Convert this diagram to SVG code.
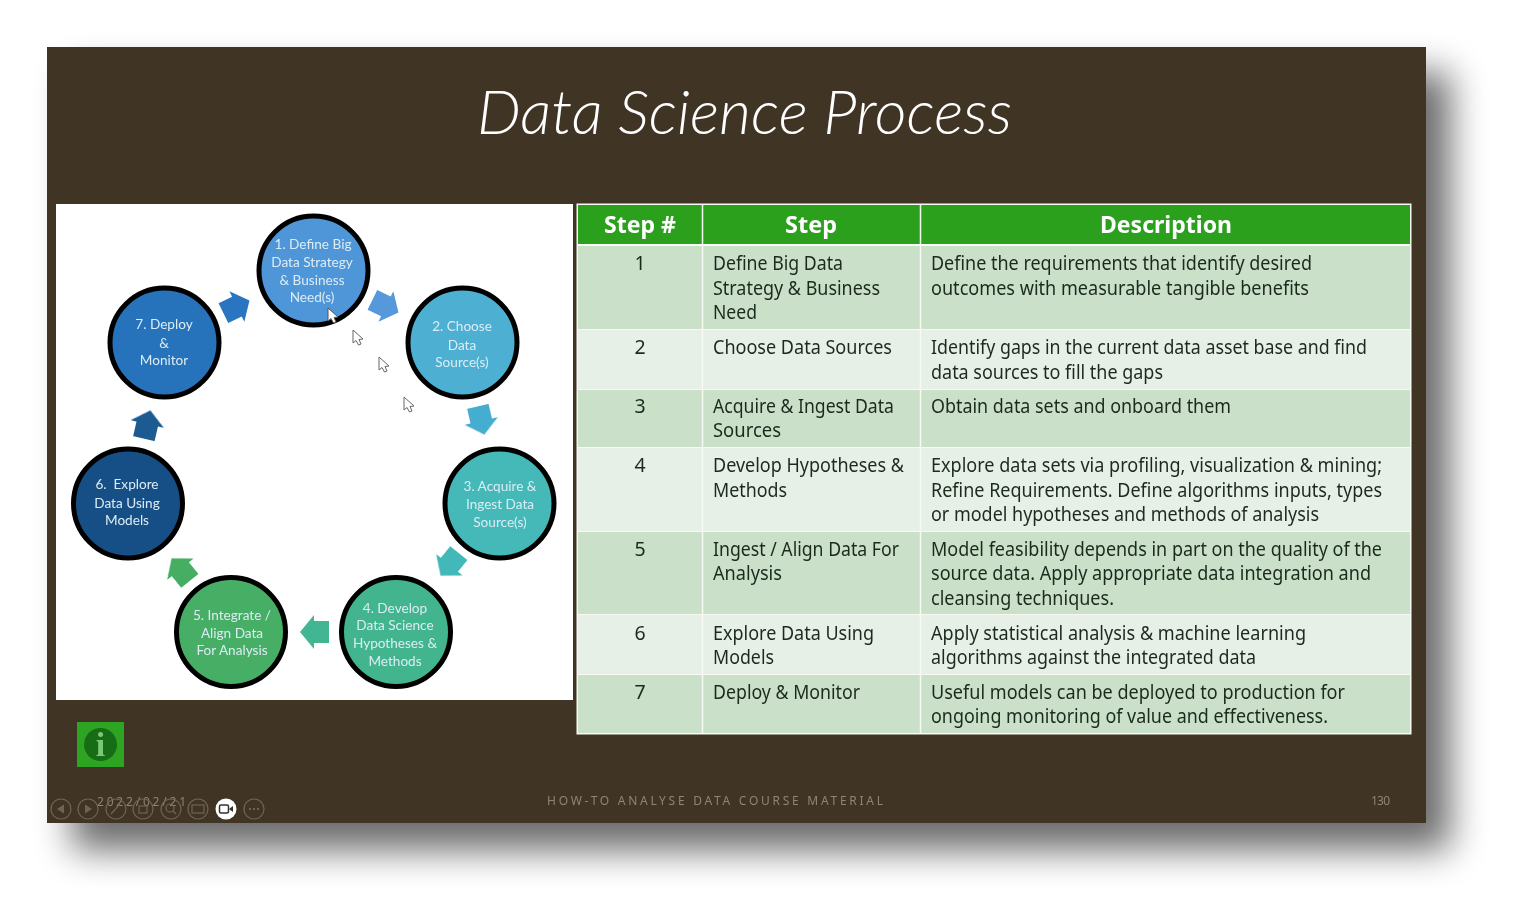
<svg xmlns="http://www.w3.org/2000/svg" width="1521" height="918" viewBox="0 0 1521 918">
<style>
text{font-family:"Noto Sans","Open Sans","Liberation Sans",sans-serif}
.title{font-family:"Lato","Open Sans",sans-serif;font-size:61px;font-style:italic;font-weight:300;fill:#fff}
.th{font-size:23px;font-weight:700;fill:#fff;text-anchor:middle}
.td{font-size:19.5px;fill:#1d2a1e}
.num{text-anchor:middle}
.node-c{stroke:#000;stroke-width:5}
.nl{font-family:"Lato","Noto Sans",sans-serif;font-size:13.600px;fill:#dcecf4;text-anchor:middle}
.foot{font-size:12px;fill:#8f8474}
.tb{fill:none;stroke:#6f6455;stroke-width:1.2}
.cur{fill:#fff;stroke:#666;stroke-width:1}
.gl{stroke:#f6faf3;stroke-width:1.5}
</style>
<defs>
<filter id="sh" x="-10%" y="-10%" width="120%" height="120%"><feGaussianBlur stdDeviation="18"/></filter>
<filter id="soft" x="-5%" y="-5%" width="110%" height="110%"><feGaussianBlur stdDeviation="0.45"/></filter>
<path id="arr" d="M15,0 L1,-17 L1,-11 L-14,-11 L-14,11 L1,11 L1,17 Z"/>
<path id="cursor" d="M0,0 L0,13 L3,10.5 L5.5,15 L8,14 L6,9.5 L10,9 Z"/>
</defs>
<rect width="1521" height="918" fill="#fff"/>
<rect x="72" y="72" width="1378" height="778" fill="#000" opacity=".58" filter="url(#sh)"/>
<rect x="47" y="47" width="1379" height="776" fill="#403425"/>
<text class="title" x="477" y="134" textLength="535" lengthAdjust="spacingAndGlyphs">Data Science Process</text>

<rect x="56" y="204" width="517" height="496" fill="#fff"/>
<g id="connectors" filter="url(#soft)">
<use href="#arr" transform="translate(236,307) rotate(-26)" fill="#2a75c0"/>
<use href="#arr" transform="translate(385,306) rotate(26)" fill="#5599dc"/>
<use href="#arr" transform="translate(481,420) rotate(77)" fill="#45aed0"/>
<use href="#arr" transform="translate(450,564) rotate(129)" fill="#42b8b8"/>
<use href="#arr" transform="translate(315,632) rotate(180)" fill="#43b592"/>
<use href="#arr" transform="translate(181,570) rotate(231)" fill="#45ae62"/>
<use href="#arr" transform="translate(147,425) rotate(-77)" fill="#1d5a92"/>
</g>
<g id="node1" filter="url(#soft)"><circle class="node-c" cx="313.500" cy="270.500" r="54.500" fill="#5096d8"/>
<text class="nl" x="313" y="249">1. Define Big</text><text class="nl" x="312" y="267">Data Strategy</text><text class="nl" x="312" y="285">&amp; Business</text><text class="nl" x="312" y="302">Need(s)</text></g>
<g id="node2" filter="url(#soft)"><circle class="node-c" cx="462.500" cy="342.500" r="54.500" fill="#4db0d2"/>
<text class="nl" x="462" y="331">2. Choose</text><text class="nl" x="462" y="350">Data</text><text class="nl" x="462" y="367">Source(s)</text></g>
<g id="node3" filter="url(#soft)"><circle class="node-c" cx="499.500" cy="503.500" r="54.500" fill="#45b8b8"/>
<text class="nl" x="500" y="491">3. Acquire &amp;</text><text class="nl" x="500" y="509">Ingest Data</text><text class="nl" x="500" y="527">Source(s)</text></g>
<g id="node4" filter="url(#soft)"><circle class="node-c" cx="396" cy="632" r="54.500" fill="#42b58e"/>
<text class="nl" x="395" y="613">4. Develop</text><text class="nl" x="395" y="630">Data Science</text><text class="nl" x="395" y="648">Hypotheses &amp;</text><text class="nl" x="395" y="666">Methods</text></g>
<g id="node5" filter="url(#soft)"><circle class="node-c" cx="231" cy="632" r="54.500" fill="#46ae66"/>
<text class="nl" x="232" y="620">5. Integrate /</text><text class="nl" x="232" y="638">Align Data</text><text class="nl" x="232" y="655">For Analysis</text></g>
<g id="node6" filter="url(#soft)"><circle class="node-c" cx="128" cy="503.500" r="54.500" fill="#184f85"/>
<text class="nl" x="127" y="489" xml:space="preserve">6.  Explore</text><text class="nl" x="127" y="508">Data Using</text><text class="nl" x="127" y="525">Models</text></g>
<g id="node7" filter="url(#soft)"><circle class="node-c" cx="164.500" cy="342.500" r="54.500" fill="#2673bc"/>
<text class="nl" x="164" y="329">7. Deploy</text><text class="nl" x="164" y="348">&amp;</text><text class="nl" x="164" y="365">Monitor</text></g>
<use href="#cursor" x="328" y="308" fill="#fff" stroke="#555"/>
<use class="cur" href="#cursor" x="353" y="330"/>
<use class="cur" href="#cursor" x="379" y="357"/>
<use class="cur" href="#cursor" x="404" y="397"/>

<g id="table" filter="url(#soft)">
<rect x="576.500" y="203.500" width="835" height="531" fill="#f6faf3"/>
<rect x="578" y="205" width="832" height="39" fill="#2ca01f"/>
<g>
<rect x="578" y="246" width="832" height="83" fill="#cae0c9"/>
<rect x="578" y="330" width="832" height="59" fill="#e7f0e6"/>
<rect x="578" y="390" width="832" height="57" fill="#cae0c9"/>
<rect x="578" y="448" width="832" height="83" fill="#e7f0e6"/>
<rect x="578" y="532" width="832" height="82" fill="#cae0c9"/>
<rect x="578" y="615" width="832" height="59" fill="#e7f0e6"/>
<rect x="578" y="675" width="832" height="58" fill="#cae0c9"/>
</g>
<path class="gl" d="M702.500,204V734M920.500,204V734"/>
<text class="th" x="640" y="233" textLength="72" lengthAdjust="spacingAndGlyphs">Step #</text>
<text class="th" x="811" y="233" textLength="52" lengthAdjust="spacingAndGlyphs">Step</text>
<text class="th" x="1166" y="233" textLength="132" lengthAdjust="spacingAndGlyphs">Description</text>

<text class="td num" x="640" y="270">1</text><text class="td num" x="640" y="354">2</text><text class="td num" x="640" y="413">3</text><text class="td num" x="640" y="472">4</text><text class="td num" x="640" y="556">5</text><text class="td num" x="640" y="640">6</text><text class="td num" x="640" y="699">7</text>

<g>
<text class="td" x="713" y="270" textLength="130" lengthAdjust="spacingAndGlyphs">Define Big Data</text>
<text class="td" x="713" y="295" textLength="167" lengthAdjust="spacingAndGlyphs">Strategy &amp; Business</text>
<text class="td" x="713" y="319" textLength="44" lengthAdjust="spacingAndGlyphs">Need</text>
<text class="td" x="713" y="354" textLength="179" lengthAdjust="spacingAndGlyphs">Choose Data Sources</text>
<text class="td" x="713" y="413" textLength="181" lengthAdjust="spacingAndGlyphs">Acquire &amp; Ingest Data</text>
<text class="td" x="713" y="437" textLength="68" lengthAdjust="spacingAndGlyphs">Sources</text>
<text class="td" x="713" y="472" textLength="191" lengthAdjust="spacingAndGlyphs">Develop Hypotheses &amp;</text>
<text class="td" x="713" y="497" textLength="74" lengthAdjust="spacingAndGlyphs">Methods</text>
<text class="td" x="713" y="556" textLength="186" lengthAdjust="spacingAndGlyphs">Ingest / Align Data For</text>
<text class="td" x="713" y="580" textLength="69" lengthAdjust="spacingAndGlyphs">Analysis</text>
<text class="td" x="713" y="640" textLength="161" lengthAdjust="spacingAndGlyphs">Explore Data Using</text>
<text class="td" x="713" y="664" textLength="61" lengthAdjust="spacingAndGlyphs">Models</text>
<text class="td" x="713" y="699" textLength="147" lengthAdjust="spacingAndGlyphs">Deploy &amp; Monitor</text>
</g>
<g>
<text class="td" x="931" y="270" textLength="381" lengthAdjust="spacingAndGlyphs">Define the requirements that identify desired</text>
<text class="td" x="931" y="295" textLength="378" lengthAdjust="spacingAndGlyphs">outcomes with measurable tangible benefits</text>
<text class="td" x="931" y="354" textLength="436" lengthAdjust="spacingAndGlyphs">Identify gaps in the current data asset base and find</text>
<text class="td" x="931" y="379" textLength="232" lengthAdjust="spacingAndGlyphs">data sources to fill the gaps</text>
<text class="td" x="931" y="413" textLength="300" lengthAdjust="spacingAndGlyphs">Obtain data sets and onboard them</text>
<text class="td" x="931" y="472" textLength="451" lengthAdjust="spacingAndGlyphs">Explore data sets via profiling, visualization &amp; mining;</text>
<text class="td" x="931" y="497" textLength="451" lengthAdjust="spacingAndGlyphs">Refine Requirements. Define algorithms inputs, types</text>
<text class="td" x="931" y="521" textLength="388" lengthAdjust="spacingAndGlyphs">or model hypotheses and methods of analysis</text>
<text class="td" x="931" y="556" textLength="451" lengthAdjust="spacingAndGlyphs">Model feasibility depends in part on the quality of the</text>
<text class="td" x="931" y="580" textLength="440" lengthAdjust="spacingAndGlyphs">source data. Apply appropriate data integration and</text>
<text class="td" x="931" y="605" textLength="183" lengthAdjust="spacingAndGlyphs">cleansing techniques.</text>
<text class="td" x="931" y="640" textLength="375" lengthAdjust="spacingAndGlyphs">Apply statistical analysis &amp; machine learning</text>
<text class="td" x="931" y="664" textLength="325" lengthAdjust="spacingAndGlyphs">algorithms against the integrated data</text>
<text class="td" x="931" y="699" textLength="414" lengthAdjust="spacingAndGlyphs">Useful models can be deployed to production for</text>
<text class="td" x="931" y="723" textLength="397" lengthAdjust="spacingAndGlyphs">ongoing monitoring of value and effectiveness.</text>
</g>
</g>

<g id="info" filter="url(#soft)">
<rect x="77" y="722" width="47" height="45" fill="#2ea522"/>
<circle cx="100.500" cy="744.500" r="16.500" fill="#166d12"/>
<text x="100.500" y="756" text-anchor="middle" style="font-family:'Liberation Serif',serif;font-size:34px;font-weight:700;fill:#7cc878">i</text>
</g>

<g id="footer" filter="url(#soft)">
<text class="foot" x="97" y="806" textLength="89">2022/02/21</text>
<text class="foot" x="547" y="805" textLength="336">HOW-TO ANALYSE DATA COURSE MATERIAL</text>
<text class="foot" x="1371" y="805" textLength="19">130</text>
</g>
<g id="toolbar" filter="url(#soft)">
<circle class="tb" cx="61" cy="809" r="10"/><path d="M64,804.500V813.500L57,809Z" fill="#6f6455"/>
<circle class="tb" cx="88" cy="809" r="10"/><path d="M85,804.500V813.500L92,809Z" fill="#6f6455"/>
<circle class="tb" cx="116" cy="809" r="10"/><path class="tb" d="M111,814L120,804"/>
<circle class="tb" cx="143" cy="809" r="10"/><rect class="tb" x="139" y="806" width="8" height="7"/>
<circle class="tb" cx="171" cy="809" r="10"/><circle class="tb" cx="170" cy="808" r="4"/><path class="tb" d="M173,811L176,814"/>
<circle class="tb" cx="198" cy="809" r="10"/><rect class="tb" x="192" y="805" width="12" height="8"/>
<circle cx="226" cy="809" r="10.500" fill="#fff"/><rect x="219.500" y="805" width="9" height="8" rx="1.500" fill="none" stroke="#333" stroke-width="1.500"/><path d="M229,809L233,806V812Z" fill="#333"/>
<circle class="tb" cx="254" cy="809" r="10"/><path d="M249,809h2M253,809h2M257,809h2" stroke="#6f6455" stroke-width="2"/>
</g>
</svg>
